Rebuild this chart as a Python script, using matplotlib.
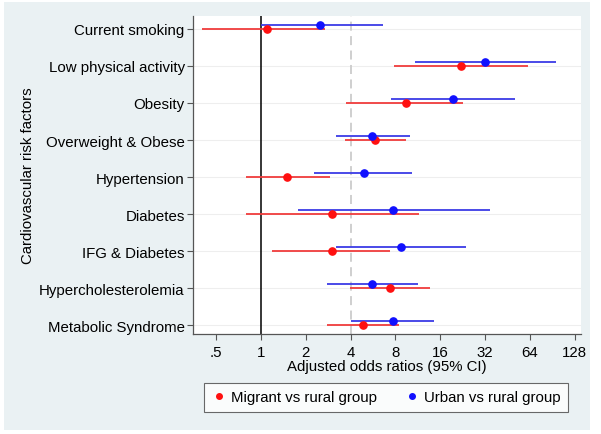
import numpy as np
import matplotlib.pyplot as plt
from matplotlib.patches import Rectangle
from matplotlib.lines import Line2D

plt.rcParams['font.family'] = ['Liberation Sans', 'DejaVu Sans']

factors = ['Current smoking', 'Low physical activity', 'Obesity', 'Overweight & Obese',
           'Hypertension', 'Diabetes', 'IFG & Diabetes', 'Hypercholesterolemia',
           'Metabolic Syndrome']

# migrant vs rural
mig_or = [1.10, 22.0, 9.4, 5.86, 1.50, 2.98, 2.98, 7.4, 4.83]
mig_lo = [0.40, 7.8, 3.75, 3.68, 0.80, 0.80, 1.19, 3.97, 2.78]
mig_hi = [2.70, 62.4, 22.9, 9.4, 2.90, 11.6, 7.35, 13.7, 8.4]

# urban vs rural
urb_or = [2.49, 32.0, 19.6, 5.6, 4.9, 7.7, 8.7, 5.6, 7.7]
urb_lo = [1.00, 10.8, 7.5, 3.18, 2.26, 1.78, 3.18, 2.78, 4.04]
urb_hi = [6.60, 96.0, 51.0, 10.1, 10.4, 34.6, 23.8, 11.3, 14.5]

xticks = [0.5, 1, 2, 4, 8, 16, 32, 64, 128]
xticklabels = ['.5', '1', '2', '4', '8', '16', '32', '64', '128']

red = '#ff1010'
blue = '#1010ff'
red_line = '#f03c3c'
blue_line = '#3c3ce6'
fs = 10.8

fig = plt.figure(figsize=(6.01, 4.35), dpi=100, facecolor='white')
fig.patches.append(Rectangle((4/601, 4/435), 586/601, 428/435, transform=fig.transFigure,
                             facecolor='#eaf1f3', edgecolor='none', zorder=-10))

ax = fig.add_axes([193/601, 100/435, 388/601, 318/435])
ax.set_facecolor('white')

n = len(factors)
ypos = np.arange(n, 0, -1)

for y in ypos:
    ax.axhline(y, color='#eeeeee', lw=0.8, zorder=0)
ax.axvline(1, color='black', lw=1.1, zorder=1)
ax.axvline(4, color='#cccccc', lw=1.3, ls=(0, (5, 3)), zorder=1)

ax.hlines(ypos, mig_lo, mig_hi, color=red_line, lw=1.3, zorder=2)
ax.plot(mig_or, ypos, 'o', color=red, ms=5.2, zorder=3)
ax.hlines(ypos + 0.11, urb_lo, urb_hi, color=blue_line, lw=1.3, zorder=2)
ax.plot(urb_or, ypos + 0.11, 'o', color=blue, ms=5.2, zorder=3)

ax.set_xscale('log', base=2)
ax.set_xlim(0.35, 141)
ax.set_ylim(0.76, 9.35)
ax.set_xticks(xticks)
ax.set_xticklabels(xticklabels)
ax.minorticks_off()
ax.set_yticks(ypos)
ax.set_yticklabels(factors)

for s in ['top', 'right']:
    ax.spines[s].set_visible(False)
for s in ['left', 'bottom']:
    ax.spines[s].set_color('#555555')
    ax.spines[s].set_linewidth(0.9)
ax.tick_params(axis='both', labelsize=fs, colors='#555555', labelcolor='black',
               length=4, width=0.8, pad=2)
ax.tick_params(axis='x', pad=4)

ax.set_xlabel('Adjusted odds ratios (95% CI)', fontsize=fs, labelpad=0)
ax.set_ylabel('Cardiovascular risk factors', fontsize=fs, labelpad=3)

handles = [Line2D([], [], marker='o', ls='none', color=red, ms=4),
           Line2D([], [], marker='o', ls='none', color=blue, ms=4)]
leg = fig.legend(handles, ['Migrant vs rural group', 'Urban vs rural group'],
                 ncol=2, loc='center', bbox_to_anchor=(386/601, 37/435),
                 fontsize=fs, frameon=True, fancybox=False, handletextpad=0.3,
                 columnspacing=1.8, handlelength=1.0, borderpad=0.5)
leg.get_frame().set_edgecolor('#444444')
leg.get_frame().set_linewidth(0.8)

fig.savefig('out.png', dpi=100, facecolor=fig.get_facecolor())
